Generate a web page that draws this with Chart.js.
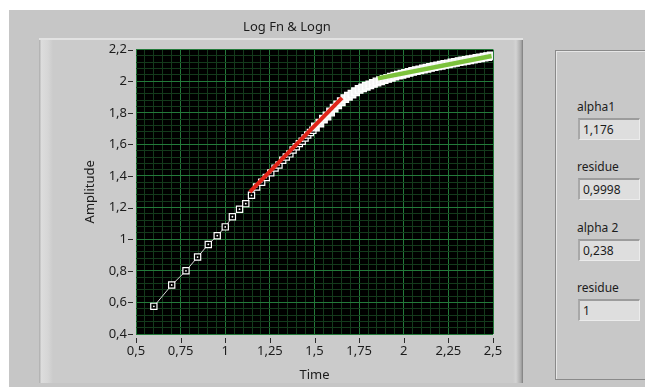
<!DOCTYPE html>
<html>
<head>
<meta charset="utf-8">
<script src="https://cdn.jsdelivr.net/npm/chart.js@4.4.1/dist/chart.umd.min.js"></script>
<style>
  body { margin: 0; background: #fff; font-family: "Noto Sans", sans-serif; }
  #wrap { position: relative; width: 645px; height: 387px; overflow: hidden; }
  .panel { position: absolute; left: 9px; top: 10px; width: 636px; height: 377px; background: #c6c6c6; }
  .frame { position: absolute; left: 39px; top: 38px; width: 484px; height: 345px; background: #cbcbcb;
           border-top: 2px solid #e2e2e2; box-sizing: border-box; }
  .frame .lband { position: absolute; left: 0; top: 0; width: 14px; height: 100%;
           background: linear-gradient(to right, #b4b4b4 0, #b4b4b4 1px, #dddddd 2px, #d6d6d6 9px, #cbcbcb 14px); }
  .frame .rband { position: absolute; right: 0; top: 0; width: 10px; height: 100%;
           background: linear-gradient(to right, #cbcbcb 0, #d3d3d3 3px, #a9a9a9 8px, #7c7c7c 10px); }
  .side { position: absolute; left: 555px; top: 50px; width: 100px; height: 330px; box-sizing: border-box;
          border: 1px solid #8a8a8a; box-shadow: inset 1px 1px 0 #e6e6e6; background: #c8c8c8; }
  .lbl { position: absolute; left: 577px; font-size: 12px; color: #1c1c1c; line-height: 14px; }
  .box { position: absolute; left: 578px; width: 62px; height: 22px; box-sizing: border-box; background: #dedede;
         border-top: 2px solid #9c9c9c; border-left: 2px solid #a8a8a8; border-right: 1px solid #ececec; border-bottom: 1px solid #ececec;
         font-size: 12px; line-height: 19px; padding-left: 3px; color: #1c1c1c; }
  canvas { position: absolute; left: 0; top: 0; }
</style>
</head>
<body>
<div id="wrap">
  <div class="panel"></div>
  <div class="frame"><div class="lband"></div><div class="rband"></div></div>
  <div class="side"></div>
  <div class="lbl" style="top:100px">alpha1</div>
  <div class="box" style="top:118px">1,176</div>
  <div class="lbl" style="top:160px">residue</div>
  <div class="box" style="top:178px">0,9998</div>
  <div class="lbl" style="top:221px">alpha 2</div>
  <div class="box" style="top:239px">0,238</div>
  <div class="lbl" style="top:281px">residue</div>
  <div class="box" style="top:299px">1</div>
  <canvas id="chart" width="645" height="387"></canvas>
</div>
<script>
// measured data (log time vs log amplitude)
const dataX = [0.60, 0.70, 0.78, 0.845, 0.905, 0.955, 1.00, 1.04, 1.08, 1.115, 1.147,
  1.176, 1.204, 1.23, 1.255, 1.279, 1.301, 1.322, 1.342, 1.362, 1.38, 1.398, 1.415, 1.431,
  1.447, 1.462, 1.477, 1.491, 1.505, 1.53, 1.55, 1.57, 1.59, 1.61, 1.63, 1.65, 1.67, 1.69,
  1.71, 1.73, 1.75, 1.77, 1.79, 1.81, 1.83, 1.85, 1.87, 1.89, 1.91, 1.93, 1.95, 1.97, 1.99,
  2.01, 2.03, 2.05, 2.07, 2.09, 2.11, 2.13, 2.15, 2.17, 2.19, 2.21, 2.23, 2.25, 2.27, 2.29,
  2.31, 2.33, 2.35, 2.37, 2.39, 2.41, 2.43, 2.45, 2.47, 2.49];
const dataY = [0.575, 0.71, 0.80, 0.887, 0.967, 1.022, 1.078, 1.142, 1.19, 1.225, 1.278,
  1.33, 1.36, 1.39, 1.42, 1.45, 1.47, 1.50, 1.52, 1.54, 1.565, 1.585, 1.605, 1.62,
  1.64, 1.66, 1.675, 1.69, 1.71, 1.735, 1.76, 1.78, 1.805, 1.83, 1.85, 1.87, 1.89, 1.905,
  1.918, 1.933, 1.948, 1.958, 1.968, 1.977, 1.986, 1.995, 2.003, 2.011, 2.018, 2.025, 2.032, 2.038, 2.044,
  2.050, 2.056, 2.062, 2.067, 2.072, 2.077, 2.082, 2.087, 2.092, 2.097, 2.101, 2.106, 2.110, 2.115, 2.119,
  2.124, 2.128, 2.132, 2.136, 2.140, 2.144, 2.148, 2.152, 2.156, 2.160];

// fit 1 (alpha1) and fit 2 (alpha 2)
const fit1X = [1.138, 1.654];
const fit1Y = [1.30, 1.895];
const fit2X = [1.855, 2.492];
const fit2Y = [2.018, 2.160];

const xMin = 0.5, xMax = 2.5, xStep = 0.05;
const yMin = 0.4, yMax = 2.2, yStep = 0.04;

const toPts = (xs, ys) => xs.map((x, i) => ({ x: x, y: ys[i] }));
const fmt = (v) => String(Math.round(v * 100) / 100).replace('.', ',');

// black plot area + short tick marks off the plot edge, like the LabVIEW graph
const plotDeco = {
    id: 'plotDeco',
    beforeDraw(chart) {
        const { ctx, chartArea } = chart;
        ctx.save();
        ctx.fillStyle = '#000000';
        ctx.fillRect(chartArea.left, chartArea.top, chartArea.right - chartArea.left, chartArea.bottom - chartArea.top);
        ctx.restore();
    },
    afterDraw(chart) {
        const { ctx, chartArea, scales } = chart;
        ctx.save();
        ctx.strokeStyle = '#2a2a2a';
        ctx.lineWidth = 1;
        ctx.beginPath();
        scales.y.ticks.forEach((t, i) => {
            if (i % 5 !== 0) return;
            const py = Math.round(scales.y.getPixelForValue(t.value)) + 0.5;
            ctx.moveTo(chartArea.left - 8, py);
            ctx.lineTo(chartArea.left - 3, py);
        });
        scales.x.ticks.forEach((t, i) => {
            if (i % 5 !== 0) return;
            const px = Math.round(scales.x.getPixelForValue(t.value)) + 0.5;
            ctx.moveTo(px, chartArea.bottom + 4);
            ctx.lineTo(px, chartArea.bottom + 9);
        });
        ctx.stroke();
        ctx.restore();
    }
};

const labelFont = { family: '"Noto Sans", sans-serif', size: 13, weight: 'normal' };
const major = (ctx) => ctx.index % 5 === 0;

new Chart(document.getElementById('chart'), {
    type: 'scatter',
    data: {
        datasets: [
            {
                data: toPts(dataX, dataY),
                showLine: true,
                borderColor: '#d8d8d8',
                borderWidth: 1,
                pointStyle: 'rect',
                pointRadius: (c) => (c.raw && c.raw.x < 1.5 ? 4.4 : 5.4),
                pointBorderWidth: 1.2,
                pointBorderColor: '#ffffff',
                pointBackgroundColor: (c) => (c.raw && c.raw.x < 1.5 ? '#000000' : '#f4f4f4'),
                order: 4,
            },
            {
                data: toPts(dataX, dataY),
                showLine: false,
                pointStyle: 'circle',
                pointRadius: 0.9,
                pointBorderWidth: 0,
                pointBackgroundColor: '#ffffff',
                order: 3,
            },
            {
                data: toPts(fit1X, fit1Y),
                showLine: true,
                borderColor: '#e02418',
                borderWidth: 4,
                pointRadius: 0,
                order: 2,
            },
            {
                data: toPts(fit2X, fit2Y),
                showLine: true,
                borderColor: '#7cc23c',
                borderWidth: 4.5,
                pointRadius: 0,
                order: 1,
            },
        ],
    },
    options: {
        responsive: false,
        animation: false,
        layout: { padding: { left: 81, right: 152, top: 0, bottom: 0 } },
        plugins: {
            legend: { display: false },
            tooltip: { enabled: false },
            title: {
                display: true,
                text: 'Log Fn & Logn',
                color: '#1c1c1c',
                font: labelFont,
                padding: { top: 19, bottom: 15 },
            },
        },
        scales: {
            x: {
                type: 'linear',
                min: xMin,
                max: xMax,
                afterFit: (s) => { s.height = 53; },
                ticks: {
                    stepSize: xStep,
                    autoSkip: false,
                    maxRotation: 0,
                    color: '#1c1c1c',
                    font: labelFont,
                    padding: 1,
                    callback: (v, i) => (i % 5 === 0 ? fmt(v) : ''),
                },
                grid: {
                    color: (c) => (major(c) ? '#237a3a' : '#143a1c'),
                    lineWidth: 1,
                    tickLength: 8,
                    tickColor: 'rgba(0,0,0,0)',
                },
                border: { display: false },
                title: {
                    display: true,
                    text: 'Time',
                    color: '#1c1c1c',
                    font: labelFont,
                    padding: { top: 0, bottom: 4 },
                },
            },
            y: {
                type: 'linear',
                min: yMin,
                max: yMax,
                afterFit: (s) => { s.width = 55; },
                ticks: {
                    stepSize: yStep,
                    autoSkip: false,
                    color: '#1c1c1c',
                    font: labelFont,
                    padding: 1,
                    callback: (v, i) => (i % 5 === 0 ? fmt(v) : ''),
                },
                grid: {
                    color: (c) => (major(c) ? '#237a3a' : '#143a1c'),
                    lineWidth: 1,
                    tickLength: 8,
                    tickColor: 'rgba(0,0,0,0)',
                },
                border: { display: false },
                title: {
                    display: true,
                    text: 'Amplitude',
                    color: '#1c1c1c',
                    font: labelFont,
                    padding: { top: 1, bottom: 0 },
                },
            },
        },
    },
    plugins: [plotDeco],
});
</script>
</body>
</html>
